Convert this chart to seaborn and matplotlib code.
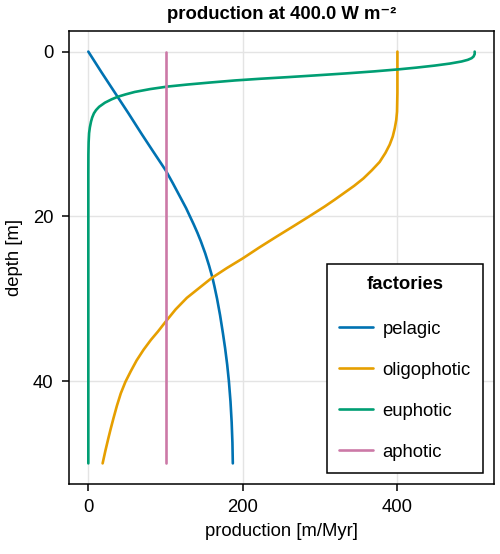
"""
File: plot.py
-------------------
Production profiles of the carbonate factories against depth
"""

import pandas as pd
import matplotlib
matplotlib.use('Agg')
import matplotlib.pyplot as plt
import seaborn as sns

# values: depth [m] -> production [m/Myr]
pelagic_depth = [0, 2.5, 5, 7.5, 10, 12, 14.4, 16, 17.5, 19, 20, 21, 22, 23, 24.5, 26, 27.4,
                 28.5, 30, 32, 34.2, 36, 38, 40, 42.5, 45, 47.5, 50]
pelagic_prod = [0, 17, 34.5, 52, 69, 83, 100, 109.5, 118, 126.5, 131.5, 136.5, 141.2, 145.5,
                151.3, 156.3, 160.5, 163.2, 166.6, 170.5, 174.2, 177, 179.7, 181.9, 184,
                185.5, 186.5, 187]

oligo_depth = [0, 5, 7.3, 8.3, 9.3, 10.3, 11.3, 12.3, 13.4, 14.4, 15.4, 16.3, 17.2, 18, 18.8,
               20, 21.2, 22.5, 23.8, 25.1, 26.3, 27.5, 28.7, 29.9, 31.3, 32.8, 34, 35, 36.2,
               37.5, 38.8, 40.1, 41.5, 43, 44.5, 45.9, 47, 48.5, 50]
oligo_prod = [400, 400, 399.5, 398.5, 396.6, 394, 390, 384.5, 377, 367, 356, 344, 330.5,
              318.5, 306, 286, 265.5, 243, 221, 200, 179, 159.5, 143.5, 127.5, 113, 100, 90,
              81, 71.5, 62.5, 55, 48, 42, 37, 32.6, 28.7, 25.8, 22, 18.5]

eupho_depth = [0, 0.3, 0.6, 0.8, 1.0, 1.2, 1.45, 1.7, 1.95, 2.15, 2.4, 2.65, 2.9, 3.1, 3.3,
               3.5, 3.75, 4.0, 4.25, 4.55, 4.9, 5.2, 5.47, 5.8, 6.2, 6.7, 7.1, 7.5, 8.0, 8.5,
               9.2, 9.9, 11, 12.5, 15, 20, 30, 40, 50]
eupho_prod = [500, 500, 498.5, 496, 491, 483, 468, 448, 424, 402, 370, 333, 292, 258, 222,
              190, 158, 128, 102, 80, 60, 48, 38.5, 30, 21.5, 14, 10, 7.2, 5, 3.5,
              2, 1, 0.4, 0.1, 0, 0, 0, 0, 0]

apho_depth = [0, 50]
apho_prod = [100, 100]

factories = ['pelagic', 'oligophotic', 'euphotic', 'aphotic']
colors = ['#0072B2', '#E69F00', '#009E73', '#CC79A7']

x_ticks = [0, 200, 400]
y_ticks = [0, 20, 40]

FS = 13.3


def main():
    sns.set_style('white')
    plt.rcParams['font.family'] = ['Liberation Sans', 'DejaVu Sans']
    plt.rcParams['text.color'] = 'black'
    plt.rcParams['axes.labelcolor'] = 'black'
    plt.rcParams['xtick.color'] = 'black'
    plt.rcParams['ytick.color'] = 'black'

    profiles = [(pelagic_depth, pelagic_prod), (oligo_depth, oligo_prod),
                (eupho_depth, eupho_prod), (apho_depth, apho_prod)]

    fig = plt.figure(figsize=(5, 5.54), dpi=100)
    ax = fig.add_axes([0.138, 0.1264, 0.85, 0.8176])

    for name, color, (depth, prod) in zip(factories, colors, profiles):
        df = pd.DataFrame({'depth': depth, 'production': prod})
        sns.lineplot(data=df, x='production', y='depth', orient='y', estimator=None,
                     color=color, linewidth=1.9, label=name, ax=ax)

    ax.set_xlim(-25, 525)
    ax.set_ylim(52.5, -2.5)
    ax.set_xticks(x_ticks)
    ax.set_yticks(y_ticks)
    ax.grid(True, color='#e4e4e4', linewidth=1)
    ax.set_axisbelow(True)
    for spine in ax.spines.values():
        spine.set_color('black')
        spine.set_linewidth(1.1)
    ax.tick_params(axis='both', which='major', direction='out', length=5, width=1.1,
                   labelsize=FS, color='black', left=True, bottom=True, pad=6)

    ax.set_xlabel('production [m/Myr]', fontsize=FS, labelpad=5)
    ax.set_ylabel('depth [m]', fontsize=FS, labelpad=7)
    ax.set_title('production at 400.0 W m\u207b\u00b2', fontsize=FS, fontweight='bold', pad=9)

    leg = ax.legend(loc='lower right', bbox_to_anchor=(0.974, 0.025), borderaxespad=0,
                    title='factories', title_fontproperties={'weight': 'bold', 'size': FS},
                    fontsize=FS, frameon=True, fancybox=False, framealpha=1,
                    edgecolor='black', labelspacing=1.3, handlelength=1.85,
                    handletextpad=0.5, borderpad=0.65)
    leg.get_frame().set_linewidth(1.1)
    leg._legend_box.sep = 20

    fig.savefig('out.png', dpi=100)


if __name__ == '__main__':
    main()
